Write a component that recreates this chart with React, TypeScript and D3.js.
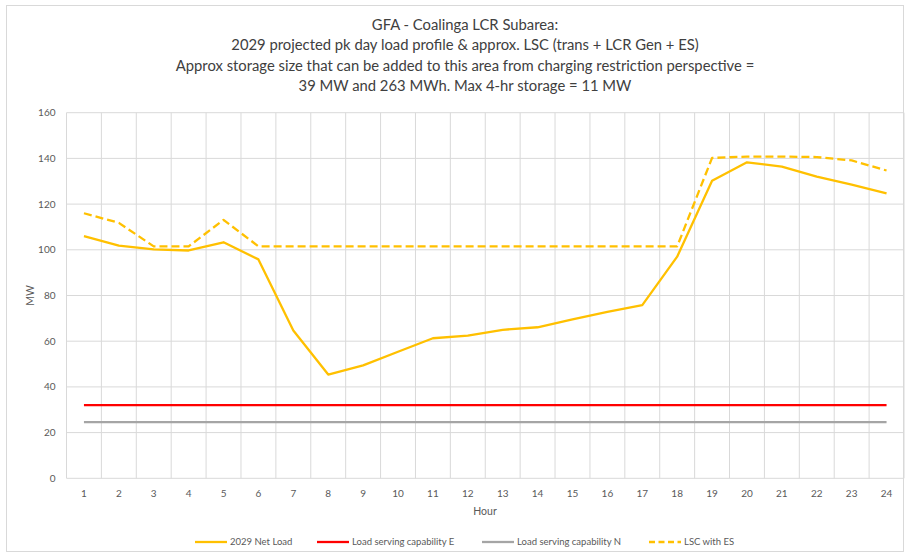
import React from "react";
import * as d3 from "d3";

const hours = d3.range(1, 25).map(String);
const netLoad = [106, 101.8, 100.2, 99.7, 103.3, 95.8, 64.7, 45.4, 49.4, 55.4, 61.3, 62.4, 65, 66.1, 69.6, 72.8, 75.8, 97, 130.2, 138.3, 136.4, 132, 128.5, 124.7];
const lscE = Array(24).fill(32);
const lscN = Array(24).fill(24.6);
const lscES = [116, 111.8, 101.5, 101.5, 113.1, 101.5, 101.5, 101.5, 101.5, 101.5, 101.5, 101.5, 101.5, 101.5, 101.5, 101.5, 101.5, 101.5, 140.2, 140.8, 140.8, 140.6, 139.1, 134.7];
const yTicks = [0, 20, 40, 60, 80, 100, 120, 140, 160];
const titleLines = [
  "GFA - Coalinga LCR Subarea:",
  "2029 projected pk day load profile & approx. LSC (trans + LCR Gen + ES)",
  "Approx storage size that can be added to this area from charging restriction perspective =",
  "39 MW and 263 MWh. Max 4-hr storage = 11 MW",
];

const series = [
  { name: "2029 Net Load", values: netLoad, color: "#FFC000", dash: "" },
  { name: "Load serving capability E", values: lscE, color: "#FF0000", dash: "" },
  { name: "Load serving capability N", values: lscN, color: "#A5A5A5", dash: "" },
  { name: "LSC with ES", values: lscES, color: "#FFC000", dash: "8,4" },
];

const FONT = "Lato, 'Open Sans', sans-serif";

export default function App() {
  const W = 905, H = 555;
  const left = 66.5, right = 904, top = 112.7, bottom = 478.3;
  const x = d3.scaleBand().domain(hours).range([left, right]);
  const y = d3.scaleLinear().domain([0, 160]).range([bottom, top]);
  const cx = (i: number) => (x(hours[i]) as number) + x.bandwidth() / 2;
  const line = d3.line<number>().x((_, i) => cx(i)).y((d) => y(d));
  const legendItems = [
    { lx: 195, tx: 230 },
    { lx: 317, tx: 352 },
    { lx: 482, tx: 517 },
    { lx: 649, tx: 684 },
  ];
  return (
    <svg width={W} height={H} style={{ position: "absolute", left: 0, top: 0, background: "#fff" }} fontFamily={FONT}>
      <rect x={6.5} y={5.5} width={897} height={546} fill="#fff" stroke="#D9D9D9" />
      {titleLines.map((t, i) => (
        <text key={i} x={465} y={30 + i * 20.3} textAnchor="middle" fontSize={14.8} fill="#404040">{t}</text>
      ))}
      {yTicks.map((t) => (
        <line key={"h" + t} x1={left} x2={right} y1={y(t)} y2={y(t)} stroke="#D9D9D9" strokeWidth={1} />
      ))}
      {d3.range(0, 25).map((k) => (
        <line key={"v" + k} x1={left + k * x.step()} x2={left + k * x.step()} y1={top} y2={bottom} stroke="#D9D9D9" strokeWidth={1} />
      ))}
      {yTicks.map((t) => (
        <text key={"yt" + t} x={55.5} y={y(t)} dy="0.35em" textAnchor="end" fontSize={10} fill="#595959">{t}</text>
      ))}
      {hours.map((h, i) => (
        <text key={"xt" + h} x={cx(i)} y={493.5} dy="0.35em" textAnchor="middle" fontSize={10} fill="#595959">{h}</text>
      ))}
      <text x={485} y={511} dy="0.35em" textAnchor="middle" fontSize={10.5} fill="#595959">Hour</text>
      <text transform={`translate(30,${(top + bottom) / 2}) rotate(-90)`} dy="0.35em" textAnchor="middle" fontSize={10.5} fill="#595959">MW</text>
      {series.map((s) => (
        <path key={s.name} d={line(s.values) as string} fill="none" stroke={s.color} strokeWidth={2.3} strokeDasharray={s.dash || undefined} strokeLinejoin="round" />
      ))}
      {series.map((s, i) => (
        <g key={"lg" + s.name}>
          <line x1={legendItems[i].lx} x2={legendItems[i].lx + 32} y1={542} y2={542} stroke={s.color} strokeWidth={2.3} strokeDasharray={s.dash ? "6,3.5" : undefined} />
          <text x={legendItems[i].tx} y={542} dy="0.35em" fontSize={9.5} fill="#595959">{s.name}</text>
        </g>
      ))}
    </svg>
  );
}
